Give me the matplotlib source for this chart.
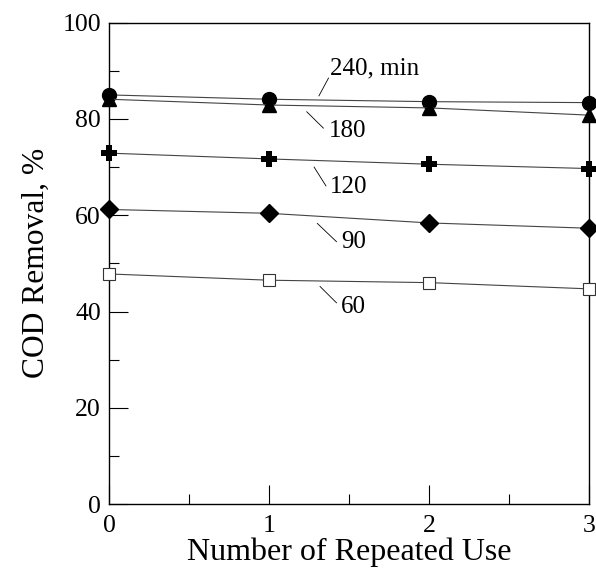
import matplotlib.pyplot as plt
from matplotlib.ticker import MultipleLocator

plt.rcParams["font.family"] = ["Liberation Serif", "DejaVu Serif"]

uses = [0, 1, 2, 3]
cod_240 = [85.0, 84.1, 83.6, 83.4]
cod_180 = [84.1, 82.9, 82.3, 80.8]
cod_120 = [72.9, 71.7, 70.6, 69.7]
cod_90 = [61.2, 60.4, 58.4, 57.3]
cod_60 = [47.8, 46.5, 46.0, 44.7]

# label text, text anchor (x, y), leader start, leader end
labels = [
    ("240, min", (1.38, 90.4), (1.31, 84.8), (1.37, 88.5)),
    ("180", (1.375, 77.4), (1.234, 81.5), (1.338, 78.1)),
    ("120", (1.38, 65.9), (1.28, 70.0), (1.354, 66.1)),
    ("90", (1.45, 54.5), (1.30, 58.3), (1.42, 54.5)),
    ("60", (1.45, 41.0), (1.317, 45.2), (1.42, 41.8)),
]

fig = plt.figure(figsize=(5.96, 5.71), dpi=100)
ax = fig.add_axes([0.1834, 0.1173, 0.8054, 0.8429])

line_kw = dict(color="#444444", lw=0.8, clip_on=False, zorder=3)
ax.plot(uses, cod_240, marker="o", ms=10, mfc="black", mec="black", **line_kw)
ax.plot(uses, cod_180, marker="^", ms=10, mfc="black", mec="black", **line_kw)
ax.plot(uses, cod_120, marker="P", ms=11, mfc="black", mec="black", mew=0, **line_kw)
ax.plot(uses, cod_90, marker="D", ms=9, mfc="black", mec="black", **line_kw)
ax.plot(uses, cod_60, marker="s", ms=9, mfc="white", mec="#333333", mew=0.8, **line_kw)

for text, (tx, ty), (x0, y0), (x1, y1) in labels:
    ax.plot([x0, x1], [y0, y1], color="black", lw=0.6)
    ax.text(tx, ty, text, fontsize=18, ha="left", va="center")

ax.set_xlim(0, 3)
ax.set_ylim(0, 100)
ax.xaxis.set_major_locator(MultipleLocator(1))
ax.xaxis.set_minor_locator(MultipleLocator(0.5))
ax.yaxis.set_major_locator(MultipleLocator(20))
ax.yaxis.set_minor_locator(MultipleLocator(10))
ax.tick_params(which="both", direction="in", top=False, right=False, labelsize=18.5)
ax.tick_params(which="major", length=14, width=0.8)
ax.tick_params(which="minor", length=7, width=0.8)
ax.tick_params(axis="x", pad=8)
ax.tick_params(axis="y", pad=6)
for sp in ax.spines.values():
    sp.set_linewidth(1.0)

ax.set_xlabel("Number of Repeated Use", fontsize=23, labelpad=0)
ax.set_ylabel("COD Removal, %", fontsize=22.7, labelpad=8)

fig.savefig("out.png", dpi=100)
